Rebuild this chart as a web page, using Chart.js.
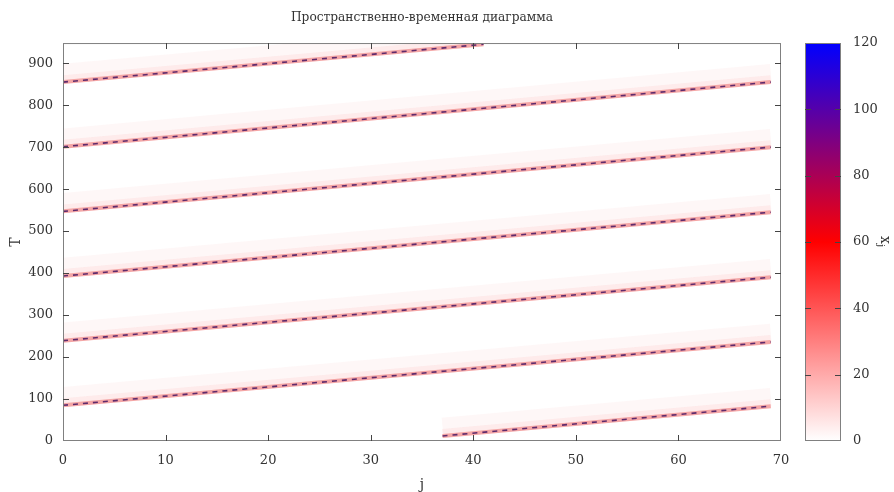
<!DOCTYPE html>
<html lang="ru">
<head>
<meta charset="UTF-8">
<title>Пространственно-временная диаграмма</title>
<script src="https://cdn.jsdelivr.net/npm/chart.js"></script>
<style>
  body { margin: 0; background: #fff; }
  #wrap { position: relative; width: 894px; height: 492px; }
  #mainBox { position: absolute; left: 0; top: 0; width: 844px; height: 492px; }
  #barBox { position: absolute; left: 790px; top: 0; width: 104px; height: 492px; }
</style>
</head>
<body>
<div id="wrap">
  <div id="mainBox"><canvas id="diagramChart"></canvas></div>
  <div id="barBox"><canvas id="paletteChart"></canvas></div>
</div>
<script>
// фронты волны: начало и конец каждого следа (j, T)
const frontStartJ = [37, 0, 0, 0, 0, 0, 0];
const frontStartT = [12, 85, 239, 393, 547, 701, 855];
const frontEndJ   = [69, 69, 69, 69, 69, 69, 41];
const frontEndT   = [83, 236, 390, 545, 700, 855, 945];

const jTicks = [0, 10, 20, 30, 40, 50, 60, 70];
const tTicks = [0, 100, 200, 300, 400, 500, 600, 700, 800, 900];
const paletteTicks = [0, 20, 40, 60, 80, 100, 120];
const paletteStops = [0, 60, 120];
const paletteColors = ['#ffffff', '#ff0000', '#0000ff'];

const FONT = 'DejaVu Serif';
const TEXT = '#333';

// рамка и внутренние засечки как в gnuplot
const framePlugin = {
    id: 'frame',
    afterDraw(chart, args, opts) {
        const ctx = chart.ctx;
        const a = chart.chartArea;
        ctx.save();
        ctx.strokeStyle = '#808080';
        ctx.lineWidth = 1;
        ctx.strokeRect(a.left + 0.5, a.top + 0.5, a.width - 1, a.height - 1);
        ctx.strokeStyle = '#444';
        const len = opts.len || 6;
        (opts.axes || []).forEach(id => {
            const sc = chart.scales[id];
            sc.ticks.forEach(t => {
                if (t.value === sc.min || t.value === sc.max) return;
                const p = Math.round(sc.getPixelForValue(t.value)) + 0.5;
                ctx.beginPath();
                if (sc.isHorizontal()) {
                    ctx.moveTo(p, a.bottom); ctx.lineTo(p, a.bottom - len);
                    ctx.moveTo(p, a.top); ctx.lineTo(p, a.top + len);
                } else {
                    ctx.moveTo(a.left, p); ctx.lineTo(a.left + len, p);
                    ctx.moveTo(a.right, p); ctx.lineTo(a.right - len, p);
                }
                ctx.stroke();
            });
        });
        if (opts.label) {
            // подпись шкалы x с нижним индексом j
            const y = chart.scales[opts.label.axis];
            ctx.fillStyle = TEXT;
            ctx.translate(y.right - 9, (a.top + a.bottom) / 2);
            ctx.rotate(Math.PI / 2);
            ctx.textBaseline = 'middle';
            ctx.font = '14px "' + FONT + '"';
            const w = ctx.measureText('x').width;
            ctx.textAlign = 'left';
            ctx.fillText('x', -w / 2 - 2, 0);
            ctx.font = '10px "' + FONT + '"';
            ctx.fillText('j', w / 2 - 2, 4);
        }
        ctx.restore();
    }
};

function front(i, lag) {
    return [
        { x: frontStartJ[i], y: frontStartT[i] + lag },
        { x: frontEndJ[i], y: frontEndT[i] + lag }
    ];
}

const datasets = [];
frontStartJ.forEach((_, i) => {
    datasets.push({ data: front(i, 22), borderColor: 'rgba(250,205,205,0.16)', borderWidth: 18, order: 4 });
    datasets.push({ data: front(i, 7), borderColor: 'rgba(248,185,185,0.2)', borderWidth: 8, order: 3 });
    datasets.push({ data: front(i, 0), borderColor: '#f4a6a6', borderWidth: 4, order: 2 });
    datasets.push({ data: front(i, 0), borderColor: '#5e2a6c', borderWidth: 1.6, borderDash: [5, 5], order: 1 });
});
datasets.forEach(d => { d.pointRadius = 0; d.borderCapStyle = 'butt'; d.tension = 0; });

new Chart(document.getElementById('diagramChart'), {
    type: 'line',
    data: { datasets: datasets },
    plugins: [framePlugin],
    options: {
        responsive: true,
        maintainAspectRatio: false,
        animation: false,
        layout: { padding: 0 },
        scales: {
            x: {
                type: 'linear', min: 0, max: 70,
                afterBuildTicks: s => { s.ticks = jTicks.map(v => ({ value: v })); },
                afterFit: s => { s.height = 51; },
                grid: { display: false },
                border: { display: false },
                ticks: { color: TEXT, font: { family: FONT, size: 13 }, padding: 4 },
                title: { display: true, text: 'j', color: TEXT, font: { family: FONT, size: 14 }, padding: { top: 0, bottom: -2 } }
            },
            y: {
                type: 'linear', min: 0, max: 948,
                afterBuildTicks: s => { s.ticks = tTicks.map(v => ({ value: v })); },
                afterFit: s => { s.width = 63; },
                grid: { display: false },
                border: { display: false },
                ticks: { color: TEXT, font: { family: FONT, size: 13 }, padding: 2 },
                title: { display: true, text: 'T', color: TEXT, font: { family: FONT, size: 14 }, padding: { top: 8, bottom: 0 } }
            },
            // пустая правая ось, чтобы заголовок был по центру области графика
            y2: {
                type: 'linear', position: 'right', min: 0, max: 948,
                afterFit: s => { s.width = 63; },
                grid: { display: false },
                border: { display: false },
                ticks: { display: false }
            }
        },
        plugins: {
            legend: { display: false },
            tooltip: { enabled: false },
            frame: { axes: ['x', 'y'], len: 6 },
            title: {
                display: true,
                text: 'Пространственно-временная диаграмма',
                color: TEXT,
                font: { family: FONT, size: 12.2, weight: 'normal' },
                padding: { top: 11, bottom: 17.4 }
            }
        }
    }
});

// цветовая шкала
function paletteGradient(context) {
    const chart = context.chart;
    const a = chart.chartArea;
    if (!a) return paletteColors[0];
    const y = chart.scales.y;
    const g = chart.ctx.createLinearGradient(0, y.getPixelForValue(0), 0, y.getPixelForValue(120));
    paletteStops.forEach((v, k) => g.addColorStop(v / 120, paletteColors[k]));
    return g;
}

new Chart(document.getElementById('paletteChart'), {
    type: 'bar',
    data: {
        labels: [''],
        datasets: [{ data: [[0, 120]], backgroundColor: paletteGradient, barPercentage: 1, categoryPercentage: 1 }]
    },
    plugins: [framePlugin],
    options: {
        responsive: true,
        maintainAspectRatio: false,
        animation: false,
        layout: { padding: { left: 15, right: 0, top: 43, bottom: 51 } },
        scales: {
            x: { display: false },
            y: {
                position: 'right', min: 0, max: 120,
                afterBuildTicks: s => { s.ticks = paletteTicks.map(v => ({ value: v })); },
                afterFit: s => { s.width = 53; },
                grid: { display: false },
                border: { display: false },
                ticks: { color: TEXT, font: { family: FONT, size: 13 }, padding: 4 }
            }
        },
        plugins: {
            legend: { display: false },
            tooltip: { enabled: false },
            frame: { axes: ['y'], len: 6, label: { axis: 'y' } }
        }
    }
});
</script>
</body>
</html>
